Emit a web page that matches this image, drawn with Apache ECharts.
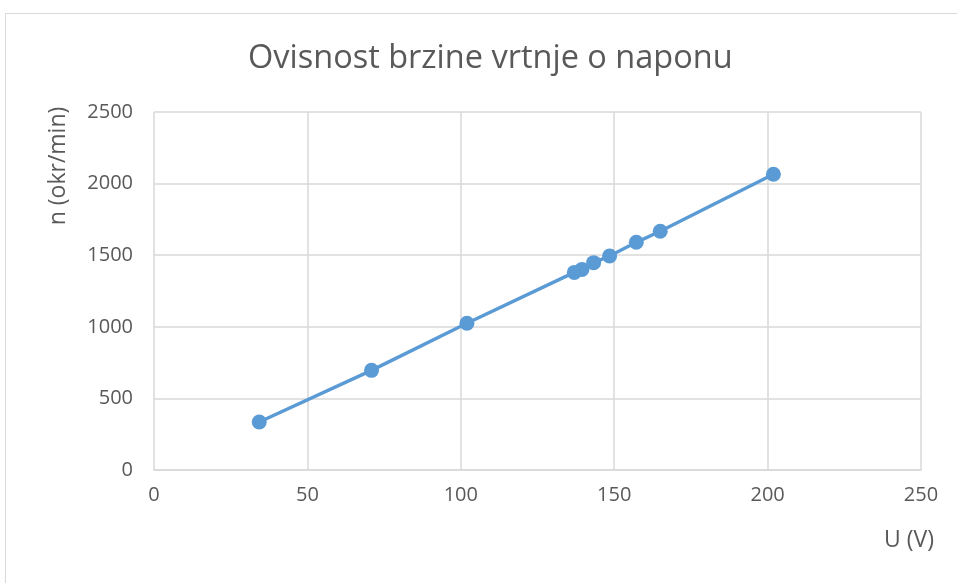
<!DOCTYPE html>
<html>
<head>
<meta charset="utf-8">
<script src="https://cdn.jsdelivr.net/npm/echarts@6/dist/echarts.min.js"></script>
<style>
  html, body { margin: 0; padding: 0; background: #fff; }
  #chart { width: 957px; height: 583px; }
</style>
</head>
<body>
<div id="chart"></div>
<script>
// Measured voltage (V) and rotational speed (rpm)
const voltage = [34.3, 70.9, 102, 137, 139.5, 143.3, 148.5, 157.2, 165, 201.9];
const speed = [335, 696, 1025, 1380, 1401, 1448, 1494, 1590, 1667, 2065];

const titleText = 'Ovisnost brzine vrtnje o naponu';
const xName = 'U (V)';
const yName = 'n (okr/min)';

const FONT = '"Open Sans", sans-serif';
const TEXT = '#595959';
const GRID = '#d9d9d9';
const BLUE = '#5B9BD5';

const chart = echarts.init(document.getElementById('chart'), null, { renderer: 'canvas' });

chart.setOption({
  backgroundColor: '#ffffff',
  animation: false,
  title: {
    text: titleText,
    left: 243,
    top: 37,
    textStyle: { fontFamily: FONT, fontSize: 32.5, fontWeight: 'normal', color: TEXT }
  },
  grid: { left: 154, right: 36, top: 112, bottom: 113, containLabel: false },
  xAxis: {
    type: 'value',
    min: 0, max: 250, interval: 50,
    axisLine: { show: true, lineStyle: { color: GRID, width: 1.5 } },
    axisTick: { show: false },
    splitLine: { show: true, lineStyle: { color: GRID, width: 1.5 } },
    axisLabel: { color: TEXT, fontFamily: FONT, fontSize: 20, margin: 15, formatter: v => String(v) }
  },
  yAxis: {
    type: 'value',
    min: 0, max: 2500, interval: 500,
    axisLine: { show: false },
    axisTick: { show: false },
    splitLine: { show: true, lineStyle: { color: GRID, width: 1.5 } },
    axisLabel: { color: TEXT, fontFamily: FONT, fontSize: 20, margin: 21, formatter: v => String(v) }
  },
  graphic: [
    {
      type: 'rect', silent: true, z: -10,
      shape: { x: 5.5, y: 13.5, width: 1000, height: 1000 },
      style: { fill: 'none', stroke: GRID, lineWidth: 1 }
    },
    {
      type: 'text', x: 58, y: 166, rotation: Math.PI / 2,
      style: { text: yName, align: 'center', verticalAlign: 'middle', fill: TEXT, font: '23px ' + FONT }
    },
    {
      type: 'text', x: 909, y: 540,
      style: { text: xName, align: 'center', verticalAlign: 'middle', fill: TEXT, font: '23px ' + FONT }
    }
  ],
  series: [{
    type: 'line',
    data: voltage.map((u, i) => [u, speed[i]]),
    symbol: 'circle',
    symbolSize: 15,
    lineStyle: { color: BLUE, width: 3.5 },
    itemStyle: { color: BLUE }
  }]
});
</script>
</body>
</html>
